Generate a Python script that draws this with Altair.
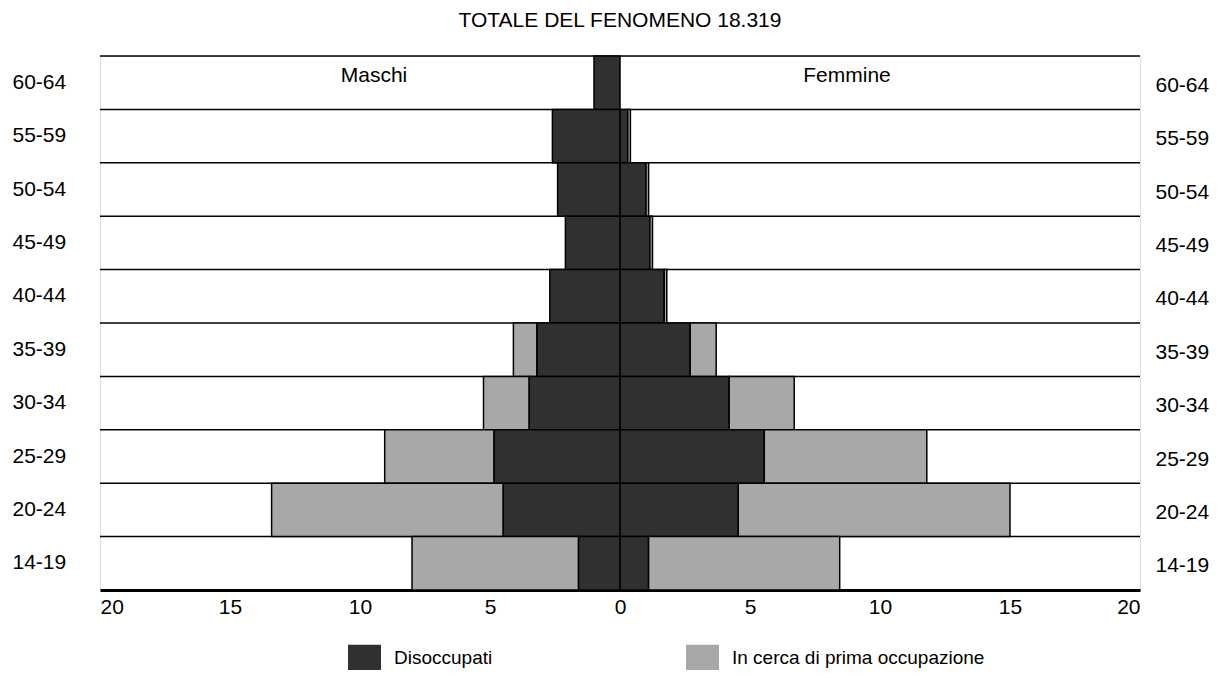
import altair as alt
import pandas as pd

ages = ["60-64", "55-59", "50-54", "45-49", "40-44", "35-39", "30-34", "25-29", "20-24", "14-19"]
m_dis = [1.0, 2.6, 2.4, 2.1, 2.7, 3.2, 3.5, 4.85, 4.5, 1.6]
m_cerca = [0.0, 0.0, 0.0, 0.0, 0.0, 0.9, 1.75, 4.2, 8.9, 6.4]
f_dis = [0.0, 0.3, 1.0, 1.15, 1.7, 2.7, 4.2, 5.55, 4.55, 1.1]
f_cerca = [0.0, 0.1, 0.1, 0.1, 0.1, 1.0, 2.5, 6.25, 10.45, 7.35]
cats = ["Disoccupati", "In cerca di prima occupazione"]
x_ticks = [-20, -15, -10, -5, 0, 5, 10, 15, 20]
title_text = "TOTALE DEL FENOMENO 18.319"

rows = []
for i, a in enumerate(ages):
    for sex, sign, d, c in (("Maschi", -1, m_dis[i], m_cerca[i]), ("Femmine", 1, f_dis[i], f_cerca[i])):
        if d > 0:
            rows.append({"age": a, "sex": sex, "cat": cats[0], "value": sign * d, "ord": 0})
        if c > 0:
            rows.append({"age": a, "sex": sex, "cat": cats[1], "value": sign * c, "ord": 1})
df = pd.DataFrame(rows)
grid_df = pd.DataFrame({"age": ages})

W, H = 1040, 534
FONT = "Liberation Sans"

yscale = alt.Scale(domain=ages, paddingInner=0, paddingOuter=0)

bars = alt.Chart(df).mark_bar(stroke="black", strokeWidth=1.5).encode(
    x=alt.X("value:Q", stack="zero",
            scale=alt.Scale(domain=[-20, 20], nice=False),
            axis=alt.Axis(values=x_ticks, labelExpr="abs(datum.value)", ticks=False, grid=False,
                          domainColor="black", domainWidth=3, labelFontSize=21, labelColor="black",
                          labelFont=FONT, labelPadding=6, title=None)),
    y=alt.Y("age:N", scale=yscale, sort=ages,
            axis=alt.Axis(orient="left", ticks=False, tickSize=0, domain=False, grid=False,
                          labelAlign="left", labelPadding=88, labelFontSize=21, labelColor="black",
                          labelFont=FONT, title=None)),
    color=alt.Color("cat:N", scale=alt.Scale(domain=cats, range=["#303030", "#a8a8a8"]),
                    legend=alt.Legend(title=None, orient="none", legendX=248, legendY=585,
                                      direction="horizontal",
                                      symbolType="M-1,-0.79H1V0.79H-1Z", symbolSize=1089,
                                      symbolStrokeWidth=0, symbolOpacity=1, labelFontSize=19,
                                      labelFont=FONT, labelColor="black", labelOffset=13,
                                      labelLimit=500, columnPadding=193)),
    order=alt.Order("ord:Q"),
)

lines = alt.Chart(grid_df).mark_rule(color="black", strokeWidth=1.5).encode(
    y=alt.Y("age:N", scale=yscale, sort=ages, bandPosition=0,
            axis=alt.Axis(orient="right", ticks=False, tickSize=0, domain=False, grid=False,
                          labelAlign="left", labelPadding=15, labelOffset=3, labelFontSize=21,
                          labelColor="black", labelFont=FONT, title=None)),
    x=alt.value(0),
    x2=alt.value(W),
)

sex_labels = pd.DataFrame({"t": ["Maschi", "Femmine"], "px": [274, 747]})
texts = alt.Chart(sex_labels).mark_text(fontSize=21, font=FONT, color="black",
                                        align="center", baseline="middle").encode(
    text="t:N",
    x=alt.X("px:Q", scale=None),
    y=alt.value(20),
)

chart = alt.layer(lines, bars, texts).resolve_scale(y="shared").resolve_axis(y="independent").properties(
    width=W, height=H,
    title=alt.TitleParams(title_text, fontSize=21, font=FONT, fontWeight="normal", color="black",
                          anchor="middle", offset=24),
    autosize=alt.AutoSizeParams(type="none"),
    padding={"left": 92, "top": 48, "right": 72, "bottom": 80},
).configure_view(stroke=None).configure(background="white")

chart.save("out.html", embed_options={"renderer": "svg", "actions": False})
